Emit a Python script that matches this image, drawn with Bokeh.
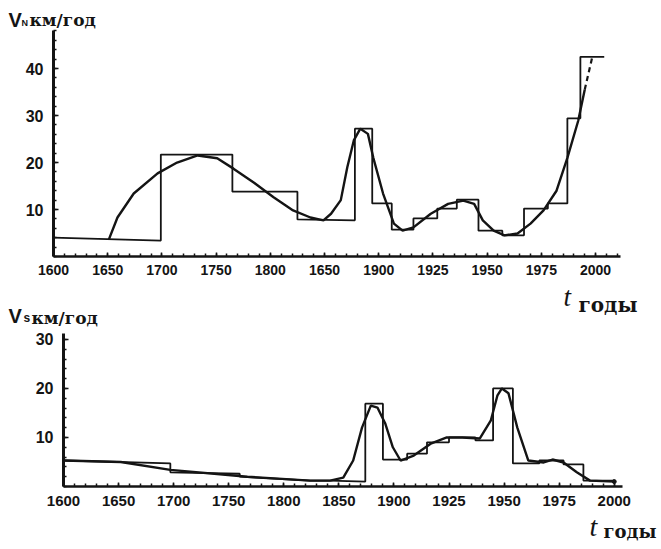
import numpy as np
from bokeh.plotting import figure
from bokeh.models import Range1d, FixedTicker
from bokeh.core.properties import value
from bokeh.layouts import column
from bokeh.embed import file_html
from bokeh.resources import INLINE

# ---------------- data ----------------
TICK_YEARS = [1600, 1650, 1700, 1750, 1800, 1850, 1900, 1925, 1950, 1975, 2000]
TOP_TICK_LABELS = ["1600", "1650", "1700", "1750", "1800", "1650", "1900", "1925", "1950", "1975", "2000"]
BOTTOM_TICK_LABELS = ["1600", "1650", "1700", "1750", "1800", "1850", "1900", "1925", "1950", "1975", "2000"]
TOP_Y_TICKS = [10, 20, 30, 40]
BOTTOM_Y_TICKS = [10, 20, 30]

# V_N : stepped (interval means) series
N_STEP_YEARS = [1600, 1699, 1699, 1765, 1765, 1825, 1825, 1878, 1878, 1894, 1894, 1906, 1906,
                1916, 1916, 1927, 1927, 1936, 1936, 1946, 1946, 1957, 1957, 1967, 1967, 1978,
                1978, 1987, 1987, 1993, 1993, 2004]
N_STEP_VALUES = [4.0, 3.4, 21.7, 21.7, 13.8, 13.8, 7.9, 7.7, 27.2, 27.2, 11.3, 11.3, 5.7,
                 5.7, 8.1, 8.1, 10.2, 10.2, 12.1, 12.1, 5.5, 5.5, 4.5, 4.5, 10.2, 10.2,
                 11.3, 11.3, 29.4, 29.4, 42.5, 42.5]
# V_N : smooth curve
N_CURVE_YEARS = [1651, 1659, 1674, 1696, 1714, 1733, 1751, 1766, 1785, 1803, 1821, 1837, 1849,
                 1856, 1865, 1871, 1877, 1883, 1890, 1895, 1902, 1907, 1911, 1916, 1924, 1932,
                 1939, 1944, 1948, 1953, 1958, 1964, 1970, 1976, 1982, 1987, 1992, 1995]
N_CURVE_VALUES = [3.6, 8.3, 13.4, 17.7, 20.0, 21.5, 20.9, 18.7, 15.7, 12.6, 9.8, 8.3, 7.7,
                  9.1, 12.0, 19.0, 24.7, 27.2, 26.1, 21.0, 13.4, 7.0, 5.5, 6.2, 9.1, 11.2,
                  11.9, 11.2, 7.7, 5.5, 4.5, 4.9, 7.0, 9.8, 14.0, 21.0, 28.9, 35.5]
N_DASH_YEARS = [1995, 1998.5]
N_DASH_VALUES = [35.5, 42.5]

# V_S : stepped series
S_STEP_YEARS = [1600, 1697, 1697, 1760, 1760, 1824, 1842, 1874, 1874, 1890, 1890, 1906, 1906,
                1915, 1915, 1925, 1925, 1937, 1937, 1945, 1945, 1954, 1954, 1966, 1966, 1977,
                1977, 1986, 1986, 2000]
S_STEP_VALUES = [5.3, 4.7, 2.9, 2.6, 2.0, 1.2, 1.2, 1.0, 16.9, 16.9, 5.5, 5.5, 6.7,
                 6.7, 9.0, 9.0, 10.0, 10.0, 9.4, 9.4, 20.0, 20.0, 4.7, 4.7, 5.3, 5.3,
                 4.5, 4.5, 1.2, 1.2]
# V_S : smooth curve
S_CURVE_YEARS = [1600, 1652, 1697, 1767, 1824, 1842, 1854, 1863, 1871, 1879, 1885, 1892, 1899,
                 1903, 1909, 1917, 1924, 1931, 1939, 1944, 1947, 1949, 1952, 1956, 1961, 1968,
                 1972, 1977, 1983, 1989, 2000]
S_CURVE_VALUES = [5.3, 5.0, 3.4, 2.0, 1.2, 1.2, 1.8, 5.3, 12.0, 16.5, 16.1, 12.9, 8.0,
                  5.3, 6.3, 8.8, 10.0, 10.0, 9.8, 13.5, 18.6, 20.0, 19.0, 12.0, 5.3, 4.9,
                  5.5, 4.9, 2.9, 1.2, 1.0]


def to_axis(years):
    """Time axis is drawn with evenly spaced labelled ticks (non-linear in years)."""
    nodes = TICK_YEARS + [2025]
    return np.interp(np.asarray(years, dtype=float), nodes, np.arange(len(nodes)))


INK = "#141414"
PAGE_W = 661
BASELINE_SHIFT = 0.27   # em; the text glyph sits this much below the requested baseline


class Panel:
    def __init__(self, top, height, frame_l, frame_r, frame_t, frame_b, x_end, y_end,
                 y_ticks, x_labels, xlab_size, xlab_standoff):
        # frame_* are page pixel coordinates of the plotting frame
        self.top = top
        self.frame_l, self.frame_b = frame_l, frame_b
        self.kx = (frame_r - frame_l) / x_end
        self.ky = (frame_b - frame_t) / y_end
        p = figure(width=PAGE_W, height=height, output_backend="svg", toolbar_location=None,
                   x_range=Range1d(0, x_end), y_range=Range1d(0, y_end),
                   min_border_left=frame_l, min_border_right=PAGE_W - frame_r,
                   min_border_top=frame_t - top, min_border_bottom=top + height - frame_b)
        if "frame_align" in p.properties():
            p.frame_align = False
        p.outline_line_color = None
        p.grid.visible = False
        p.background_fill_color = "white"
        p.border_fill_color = "white"

        xa = p.xaxis[0]
        xa.ticker = FixedTicker(ticks=list(range(len(TICK_YEARS))),
                                minor_ticks=list(np.round(np.arange(0, x_end, 0.2), 3)))
        xa.major_label_overrides = {i: lab for i, lab in enumerate(x_labels)}
        xa.axis_line_width = 2.5
        xa.axis_line_color = INK
        xa.major_tick_in = 4
        xa.major_tick_out = 0
        xa.minor_tick_in = 3
        xa.minor_tick_out = 0
        xa.major_tick_line_width = 1.5
        xa.minor_tick_line_width = 1.5
        xa.major_tick_line_color = INK
        xa.minor_tick_line_color = INK
        xa.major_label_standoff = xlab_standoff
        xa.major_label_text_font = "Liberation Sans"
        xa.major_label_text_font_style = "bold"
        xa.major_label_text_font_size = f"{xlab_size}px"
        xa.major_label_text_color = INK

        ya = p.yaxis[0]
        ya.ticker = FixedTicker(ticks=y_ticks, minor_ticks=list(range(0, int(y_end) + 1, 2)))
        ya.axis_line_width = 3
        ya.axis_line_color = INK
        ya.major_tick_in = 5
        ya.major_tick_out = 0
        ya.minor_tick_in = 3
        ya.minor_tick_out = 0
        ya.major_tick_line_width = 1.5
        ya.minor_tick_line_width = 1.5
        ya.major_tick_line_color = INK
        ya.minor_tick_line_color = INK
        ya.major_label_standoff = 10
        ya.major_label_text_font = "Liberation Sans"
        ya.major_label_text_font_style = "bold"
        ya.major_label_text_font_size = "16px"
        ya.major_label_text_color = INK
        self.p = p

    def text(self, px, py, txt, font, size, style="normal"):
        """Text placed at page pixel (px, py) = (left, baseline), anchored inside the frame."""
        ax, ay = 0.1, 1.0
        sx = self.frame_l + ax * self.kx
        sy = self.frame_b - ay * self.ky
        self.p.text(x=[ax], y=[ay], text=[txt], x_offset=px - sx,
                    y_offset=py - sy - BASELINE_SHIFT * size,
                    text_font=value(font), text_font_size=value(f"{size}px"),
                    text_font_style=value(style), text_color=INK,
                    text_baseline="alphabetic", text_align="left", level="overlay")


# ---------------- top panel: V_N ----------------
top = Panel(0, 282, 53, 620, 30, 256, 10.46, 48.1, TOP_Y_TICKS, TOP_TICK_LABELS, 14, 8)
p1 = top.p
p1.line(to_axis(N_STEP_YEARS), N_STEP_VALUES, line_color=INK, line_width=1.8)
p1.line(to_axis(N_CURVE_YEARS), N_CURVE_VALUES, line_color=INK, line_width=2.4)
p1.line(to_axis(N_DASH_YEARS), N_DASH_VALUES, line_color=INK, line_width=2.2, line_dash="5 4")

top.text(8, 25, "V", "Liberation Sans", 20, "bold")
top.text(21, 25, "N", "Liberation Sans", 9, "bold")
top.text(29, 24, "км/год", "DejaVu Serif", 17, "bold")

# ---------------- bottom panel: V_S ----------------
bot = Panel(282, 267, 63, 622, 333, 486, 10.15, 31.2, BOTTOM_Y_TICKS, BOTTOM_TICK_LABELS, 15, 9)
p2 = bot.p
p2.line(to_axis(S_STEP_YEARS), S_STEP_VALUES, line_color=INK, line_width=1.8)
p2.line(to_axis(S_CURVE_YEARS), S_CURVE_VALUES, line_color=INK, line_width=2.4)
p2.scatter(to_axis(S_CURVE_YEARS[-1:]), S_CURVE_VALUES[-1:], size=4, color=INK)

# time-axis title of the upper panel (drawn on this canvas, just below the upper axis)
bot.text(563, 304, "t", "Liberation Serif", 27, "italic")
bot.text(578, 310, "годы", "DejaVu Serif", 20, "bold")

bot.text(8, 321, "V", "Liberation Sans", 20, "bold")
bot.text(23, 321, "s", "Liberation Sans", 12, "bold")
bot.text(31, 322, "км/год", "DejaVu Serif", 17, "bold")
bot.text(589, 534, "t", "Liberation Serif", 28, "italic")
bot.text(603, 536, "годы", "DejaVu Serif", 18, "bold")

layout = column(p1, p2, spacing=0)
open("out.html", "w").write(file_html(layout, INLINE))
